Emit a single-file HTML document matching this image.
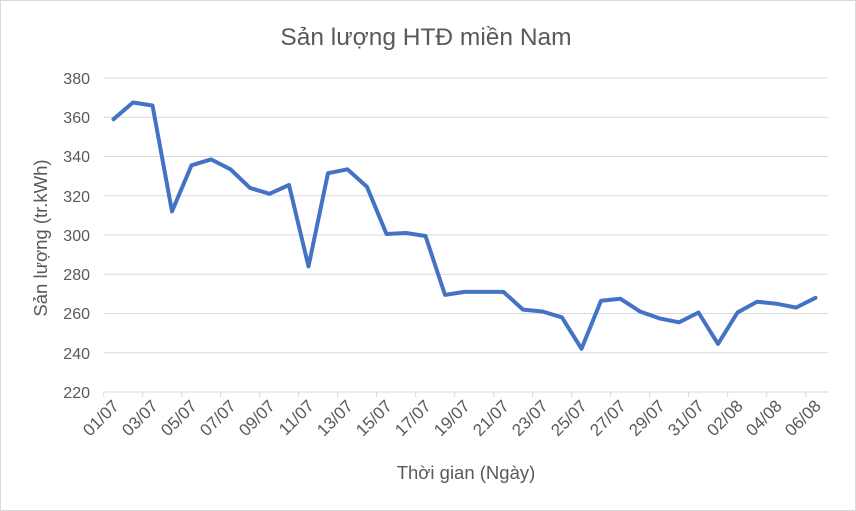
<!DOCTYPE html>
<html><head><meta charset="utf-8"><style>
body{margin:0;background:#fff;}
svg{display:block;font-family:"Liberation Sans","DejaVu Sans",sans-serif;}
</style></head><body>
<svg width="856" height="511" viewBox="0 0 856 511">
<rect x="0.5" y="0.5" width="855" height="510" fill="#fff" stroke="#d9d9d9"/>
<text x="426" y="45" font-size="24.5" text-anchor="middle" fill="#595959">Sản lượng HTĐ miền Nam</text>
<g stroke="#d9d9d9" stroke-width="1">
<line x1="104" x2="828" y1="78" y2="78"/><line x1="104" x2="828" y1="117.25" y2="117.25"/>
<line x1="104" x2="828" y1="156.5" y2="156.5"/><line x1="104" x2="828" y1="195.75" y2="195.75"/>
<line x1="104" x2="828" y1="235" y2="235"/><line x1="104" x2="828" y1="274.25" y2="274.25"/>
<line x1="104" x2="828" y1="313.5" y2="313.5"/><line x1="104" x2="828" y1="352.75" y2="352.75"/>
<line x1="104" x2="828" y1="392" y2="392"/>
</g>
<g id="ticks" stroke="#d9d9d9"></g>
<g font-size="16" fill="#595959" text-anchor="end">
<text x="90" y="84">380</text><text x="90" y="123">360</text><text x="90" y="162">340</text>
<text x="90" y="202">320</text><text x="90" y="241">300</text><text x="90" y="280">280</text>
<text x="90" y="319">260</text><text x="90" y="359">240</text><text x="90" y="398">220</text>
</g>
<g font-size="17" fill="#595959" text-anchor="end">
<text transform="translate(120,407) rotate(-45)">01/07</text>
<text transform="translate(159,407) rotate(-45)">03/07</text>
<text transform="translate(198,407) rotate(-45)">05/07</text>
<text transform="translate(237,407) rotate(-45)">07/07</text>
<text transform="translate(276,407) rotate(-45)">09/07</text>
<text transform="translate(315,407) rotate(-45)">11/07</text>
<text transform="translate(354,407) rotate(-45)">13/07</text>
<text transform="translate(393,407) rotate(-45)">15/07</text>
<text transform="translate(432,407) rotate(-45)">17/07</text>
<text transform="translate(471,407) rotate(-45)">19/07</text>
<text transform="translate(510,407) rotate(-45)">21/07</text>
<text transform="translate(549,407) rotate(-45)">23/07</text>
<text transform="translate(588,407) rotate(-45)">25/07</text>
<text transform="translate(627,407) rotate(-45)">27/07</text>
<text transform="translate(666,407) rotate(-45)">29/07</text>
<text transform="translate(705,407) rotate(-45)">31/07</text>
<text transform="translate(744,407) rotate(-45)">02/08</text>
<text transform="translate(783,407) rotate(-45)">04/08</text>
<text transform="translate(822,407) rotate(-45)">06/08</text>
</g>
<text x="466" y="479" font-size="18.5" text-anchor="middle" fill="#595959">Thời gian (Ngày)</text>
<text transform="translate(47,238) rotate(-90)" font-size="18.5" text-anchor="middle" fill="#595959">Sản lượng (tr.kWh)</text>
<polyline id="line" fill="none" stroke="#4472c4" stroke-width="4" stroke-linejoin="round" stroke-linecap="round" points=""/>
</svg>
<script>
var v=[359,367.5,366,312,335.5,338.5,333.5,324,321,325.5,284,331.5,333.5,324.5,300.5,301,299.5,269.5,271,271,271,262,261,258,242,266.5,267.5,261,257.5,255.5,260.5,244.5,260.5,266,265,263,268];
var p=[];for(var i=0;i<v.length;i++){p.push((113.5+i*19.5).toFixed(1)+","+(78+(380-v[i])*1.9625).toFixed(1));}
document.getElementById("line").setAttribute("points",p.join(" "));
var t="";for(var j=0;j<19;j++){var x=103.7+j*39;t+='<line x1="'+x+'" x2="'+x+'" y1="392" y2="397"/>';}
document.getElementById("ticks").innerHTML=t;
</script>
</body></html>
